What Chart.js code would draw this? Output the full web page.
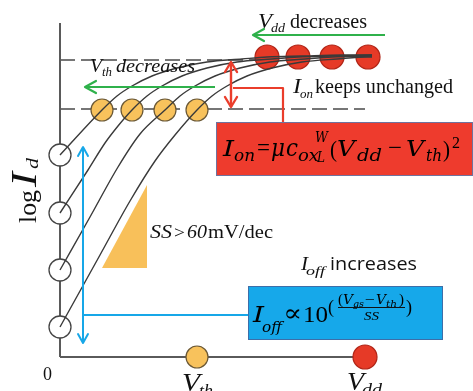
<!DOCTYPE html>
<html><head><meta charset="utf-8">
<script src="https://cdn.jsdelivr.net/npm/chart.js@4.4.1/dist/chart.umd.min.js"></script>
<style>html,body{margin:0;padding:0;background:#fff}#wrap{width:473px;height:391px}</style>
</head><body><div id="wrap"><canvas id="c" width="473" height="391"></canvas></div>
<script>
// ---- data (arbitrary units: Vgs on x, log Id on y) ----
const vgsA = [0, 4.2, 5.7, 7.2, 9.2, 11.7, 14.7, 18.2, 20.7, 24.2, 28.2, 31.2];
const logIdA = [20.2, 24.7, 26.1, 27.1, 28.1, 28.9, 29.5, 29.8, 30.0, 30.1, 30.2, 30.2];
const vgsB = [0, 2.8, 4.5, 5.8, 7.2, 8.7, 10.2, 12.2, 14.7, 17.7, 21.2, 23.8, 27.2, 31.2];
const logIdB = [14.4, 18.7, 21.4, 23.1, 24.7, 26.1, 27.1, 28.1, 28.9, 29.5, 29.8, 30.0, 30.1, 30.2];
const vgsC = [0, 3.0, 5.8, 8.0, 10.5, 12.0, 13.5, 15.5, 18.0, 21.0, 24.5, 27.2, 31.2];
const logIdC = [8.7, 14.0, 19.0, 22.3, 24.7, 26.1, 27.1, 28.1, 28.9, 29.5, 29.8, 30.0, 30.1];
const vgsD = [0, 4.0, 7.0, 9.5, 11.5, 13.7, 15.2, 16.7, 18.7, 21.2, 24.2, 27.7, 30.8, 31.2];
const logIdD = [3.0, 10.2, 15.6, 19.6, 22.2, 24.7, 26.1, 27.1, 28.1, 28.9, 29.5, 29.8, 30.0, 30.0];

const offVgs = [0, 0, 0, 0];
const offLogId = [20.2, 14.4, 8.7, 3.0];
const vthValues = [4.2, 7.2, 10.5, 13.7];
const vthLogId = [24.7, 24.7, 24.7, 24.7];
const vddValues = [20.7, 23.8, 27.2, 30.8];
const onLogId = [30.0, 30.0, 30.0, 30.0];
const axisMarkVth = [13.7];
const axisMarkVdd = [30.5];

const ionLevel = 29.7, ionLevelEnd = 20.5;
const vthLevel = 24.8, vthLevelEnd = 30.5;
const axisYTop = 33.4, axisXEnd = 30.5;

const triX = [4.2, 8.7];
const triY = [8.9, 17.2];

const greenTopX = [32.5, 19.3], greenTopY = [32.2, 32.2];
const greenMidX = [15.5, 2.5], greenMidY = [27.0, 27.0];
const blueVX = [2.3, 2.3], blueVY = [21.0, 1.4];
const blueHX = [2.3, 18.8], blueHY = [4.2, 4.2];
const redArrX = [17.1, 17.1], redArrY = [29.5, 25.0];
const redConX = [17.3, 22.3, 22.3], redConY = [26.9, 26.9, 23.5];

// ---- helpers ----
const pts = (xs, ys) => xs.map((x, i) => ({x, y: ys[i]}));
const curve = (xs, ys) => ({data: pts(xs, ys), showLine: true, borderColor: '#3a3a3a', borderWidth: 1.4,
  pointRadius: 0, cubicInterpolationMode: 'monotone', order: 0});
const seg = (xs, ys, color, width, extra) => Object.assign({data: pts(xs, ys), showLine: true, borderColor: color,
  borderWidth: width, pointRadius: 0, tension: 0, order: 3}, extra || {});
const dots = (xs, ys, r, fill, stroke, bw) => ({data: pts(xs, ys), showLine: false, pointRadius: r,
  pointHoverRadius: r, pointBackgroundColor: fill, pointBorderColor: stroke, pointBorderWidth: bw, order: 2});

const GREEN = '#2fb14b', BLUE = '#17a7e8', RED = '#ea3d2b';

const datasets = [
  seg([0, 0], [0, axisYTop], '#5a5a5a', 2),
  seg([0, axisXEnd], [0, 0], '#5a5a5a', 2),
  seg([0, ionLevelEnd], [ionLevel, ionLevel], '#4a4a4a', 1.6, {borderDash: [15, 6]}),
  seg([0, vthLevelEnd], [vthLevel, vthLevel], '#4a4a4a', 1.6, {borderDash: [15, 6]}),
  seg(triX, triY, 'rgba(0,0,0,0)', 0, {fill: {value: triY[0]}, backgroundColor: '#f8c05a'}),
  dots(offVgs, offLogId, 11, '#ffffff', '#444444', 1.3),
  dots(vthValues, vthLogId, 11, '#f8c25c', '#6a5836', 1.2),
  dots(axisMarkVth, [0], 11, '#f8c25c', '#6a5836', 1.2),
  dots(vddValues, onLogId, 12, '#e63a27', '#b02517', 1.2),
  dots(axisMarkVdd, [0], 12, '#e63a27', '#b02517', 1.2),
  curve(vgsA, logIdA), curve(vgsB, logIdB), curve(vgsC, logIdC), curve(vgsD, logIdD),
  seg(greenTopX, greenTopY, GREEN, 2.2, {order: -1, arrow: {end: true, len: 11, half: 6}}),
  seg(greenMidX, greenMidY, GREEN, 2.2, {order: -1, arrow: {end: true, len: 11, half: 6}}),
  seg(blueVX, blueVY, BLUE, 2, {order: -1, arrow: {start: true, end: true, len: 9, half: 5}}),
  seg(blueHX, blueHY, BLUE, 2, {order: -1}),
  seg(redArrX, redArrY, RED, 2.4, {order: -1, arrow: {start: true, end: true, len: 10, half: 6}}),
  seg(redConX, redConY, RED, 2.2, {order: -1, borderJoinStyle: 'round'})
];

function head(ctx, tx, ty, fx, fy, len, half, color, lw) {
  const a = Math.atan2(ty - fy, tx - fx);
  const bx = tx - len * Math.cos(a), by = ty - len * Math.sin(a);
  const nx = -Math.sin(a), ny = Math.cos(a);
  ctx.save(); ctx.strokeStyle = color; ctx.lineWidth = lw; ctx.lineCap = 'round'; ctx.lineJoin = 'round';
  ctx.beginPath(); ctx.moveTo(bx + nx * half, by + ny * half); ctx.lineTo(tx, ty); ctx.lineTo(bx - nx * half, by - ny * half);
  ctx.stroke(); ctx.restore();
}

function T(ctx, s, x, y, size, italic, w, fam, color) {
  ctx.save();
  ctx.font = (italic ? 'italic ' : '') + size + 'px ' + (fam || '"Liberation Serif"');
  ctx.fillStyle = color || '#111';
  ctx.textBaseline = 'alphabetic';
  if (w) {
    const m = ctx.measureText(s).width;
    ctx.translate(x, y); ctx.scale(w / m, 1); ctx.fillText(s, 0, 0);
  } else ctx.fillText(s, x, y);
  ctx.restore();
}

const decor = {
  id: 'decor',
  afterDatasetsDraw(chart) {
    const ctx = chart.ctx;
    const sx = chart.scales.x, sy = chart.scales.y;
    const X = v => sx.getPixelForValue(v), Y = v => sy.getPixelForValue(v);
    // arrowheads
    chart.data.datasets.forEach((ds, i) => {
      if (!ds.arrow) return;
      const d = chart.getDatasetMeta(i).data;
      const n = d.length;
      if (ds.arrow.end) head(ctx, d[n - 1].x, d[n - 1].y, d[n - 2].x, d[n - 2].y, ds.arrow.len, ds.arrow.half, ds.borderColor, ds.borderWidth);
      if (ds.arrow.start) head(ctx, d[0].x, d[0].y, d[1].x, d[1].y, ds.arrow.len, ds.arrow.half, ds.borderColor, ds.borderWidth);
    });
    // formula boxes
    const box = (x0, y0, x1, y1, fill, stroke) => {
      const L = X(x0), R = X(x1), Tp = Y(y0), B = Y(y1);
      ctx.save(); ctx.fillStyle = fill; ctx.fillRect(L, Tp, R - L, B - Tp);
      ctx.strokeStyle = stroke; ctx.lineWidth = 1; ctx.strokeRect(L + 0.5, Tp + 0.5, R - L - 1, B - Tp - 1); ctx.restore();
    };
    box(15.6, 23.5, 41.3, 18.1, '#ee3b2d', '#6f729e');
    box(18.8, 7.1, 38.3, 1.7, '#16a8ea', '#3d6ea8');

    const F = '"Liberation Serif"', D = '"DejaVu Serif"', K = '#000';
    // Ion formula
    T(ctx, 'I', 223, 156, 22, true, 11, D, K);
    T(ctx, 'on', 234, 161, 16, true, 21, D, K);
    T(ctx, '=', 257, 155, 23, false, 13, F, K);
    T(ctx, 'μ', 271, 156, 24, true, 14, D, K);
    T(ctx, 'c', 286, 156, 24, true, 12, D, K);
    T(ctx, 'ox', 298, 161, 16, true, 21, D, K);
    T(ctx, 'W', 315, 142, 14, true, 13, D, K);
    T(ctx, 'L', 317, 162, 14, true, 8, D, K);
    T(ctx, '(', 330, 157, 23, false, 7, F, K);
    T(ctx, 'V', 337, 156, 22, true, 18, D, K);
    T(ctx, 'dd', 357, 161, 16, true, 25, D, K);
    T(ctx, '−', 388, 155, 23, false, 14, F, K);
    T(ctx, 'V', 406, 156, 22, true, 18, D, K);
    T(ctx, 'th', 426, 161, 16, true, 16, D, K);
    T(ctx, ')', 443, 157, 23, false, 7, F, K);
    T(ctx, '2', 452, 148, 16, false, 8, F, K);
    // Ioff formula
    T(ctx, 'I', 253, 322, 22, true, 11, D, K);
    T(ctx, 'off', 262, 332, 15, true, 20, D, K);
    T(ctx, '∝', 283, 321, 24, false, 19, D, K);
    T(ctx, '10', 303, 322, 24, false, 25, F, K);
    T(ctx, '(', 328, 313, 19, false, 6, F, K);
    T(ctx, '(', 338, 304, 14, false, 5, F, K);
    T(ctx, 'V', 343, 304, 13, true, 10, D, K);
    T(ctx, 'gs', 353, 307, 10, true, 11, D, K);
    T(ctx, '−', 365, 304, 14, false, 10, F, K);
    T(ctx, 'V', 376, 304, 13, true, 10, D, K);
    T(ctx, 'th', 386, 307, 10, true, 11, D, K);
    T(ctx, ')', 399, 304, 14, false, 5, F, K);
    ctx.save(); ctx.strokeStyle = '#111'; ctx.lineWidth = 1; ctx.beginPath(); ctx.moveTo(338, 307.5); ctx.lineTo(405, 307.5); ctx.stroke(); ctx.restore();
    T(ctx, 'SS', 364, 320, 13, true, 15, F, K);
    T(ctx, ')', 406, 313, 19, false, 6, F, K);

    // labels
    T(ctx, 'V', 258, 28, 20, true, 14);
    T(ctx, 'dd', 271, 32, 13, true, 14);
    T(ctx, 'decreases', 290, 28, 20, false, 77);
    T(ctx, 'V', 90, 72, 19, true, 12);
    T(ctx, 'th', 102, 76, 12, true, 10);
    T(ctx, 'decreases', 116, 72, 19, true, 79);
    T(ctx, 'I', 293, 93, 20, true, 8);
    T(ctx, 'on', 300, 98, 13, true, 13);
    T(ctx, 'keeps unchanged', 315, 93, 20, false, 138);
    T(ctx, 'SS', 150, 238, 19, true, 22);
    T(ctx, '>', 174, 238, 17, false, 11);
    T(ctx, '60', 187, 238, 19, true, 20);
    T(ctx, 'mV/dec', 208, 238, 19, false, 65);
    T(ctx, 'I', 301, 270, 19, true, 7);
    T(ctx, 'off', 306, 275, 13, true, 19);
    T(ctx, 'increases', 330, 270, 19, false, 87, '"Open Sans"');
    T(ctx, '0', 43, 380, 18, false, 9);
    T(ctx, 'V', 182, 391, 26, true, 18);
    T(ctx, 'th', 199, 396, 16, true, 14);
    T(ctx, 'V', 347, 390, 26, true, 17);
    T(ctx, 'dd', 362, 395, 16, true, 20);
    // rotated y label
    ctx.save(); ctx.translate(36, 223); ctx.rotate(-Math.PI / 2);
    T(ctx, 'log', 0, 0, 26, false, 33);
    T(ctx, 'I', 36, 0, 35, true, 15);
    T(ctx, 'd', 54, 2, 17, true, 11);
    ctx.restore();
  }
};

new Chart(document.getElementById('c'), {
  type: 'scatter',
  data: {datasets},
  options: {
    responsive: false, animation: false, events: [],
    layout: {padding: 0, autoPadding: false},
    plugins: {legend: {display: false}, tooltip: {enabled: false}},
    scales: {
      x: {type: 'linear', min: -6, max: 41.3, display: false},
      y: {type: 'linear', min: -3.4, max: 35.7, display: false}
    }
  },
  plugins: [decor]
});
</script></body></html>
